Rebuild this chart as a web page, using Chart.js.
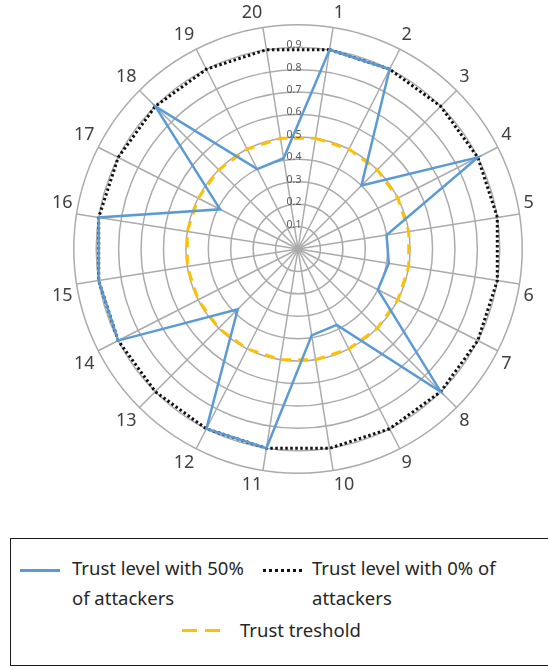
<!DOCTYPE html>
<html>
<head>
<meta charset="utf-8">
<script src="https://cdn.jsdelivr.net/npm/chart.js@4.4.1/dist/chart.umd.min.js"></script>
<style>
  html, body { margin: 0; padding: 0; background: #fff; overflow: hidden; }
  body { width: 548px; height: 669px; position: relative; font-family: "Noto Sans", sans-serif; }
  #wrap { position: absolute; left: 0; top: 0; width: 548px; height: 500px; }
  #legend { position: absolute; left: 10px; top: 538px; width: 600px; height: 128px;
            border: 1.5px solid #1a1a1a; border-right: none; box-sizing: border-box; }
  .item { position: absolute; font-size: 18.5px; line-height: 30px; color: #262626; white-space: nowrap; }
  .swatch { position: absolute; height: 3px; }
</style>
</head>
<body>
<div id="wrap"><canvas id="radar"></canvas></div>
<div id="legend"></div>
<script>
// categories 1..20 around the radar
const nodes = ["1", "2", "3", "4", "5", "6", "7", "8", "9", "10",
               "11", "12", "13", "14", "15", "16", "17", "18", "19", "20"];

// values
const trust50 = [0.9, 0.9, 0.4, 0.9, 0.4, 0.41, 0.4, 0.9, 0.38, 0.39,
                 0.9, 0.9, 0.38, 0.9, 0.9, 0.9, 0.39, 0.9, 0.4, 0.41];
const trust0 = [0.9, 0.9, 0.9, 0.9, 0.9, 0.9, 0.9, 0.9, 0.9, 0.9,
                0.9, 0.9, 0.9, 0.9, 0.9, 0.9, 0.9, 0.9, 0.9, 0.9];
const threshold = [0.5, 0.5, 0.5, 0.5, 0.5, 0.5, 0.5, 0.5, 0.5, 0.5,
                   0.5, 0.5, 0.5, 0.5, 0.5, 0.5, 0.5, 0.5, 0.5, 0.5];
const tickLabels = ["0.1", "0.2", "0.3", "0.4", "0.5", "0.6", "0.7", "0.8", "0.9"];

const seriesNames = ["Trust level with 50% of attackers",
                     "Trust level with 0% of attackers",
                     "Trust treshold"];

// tick labels stand upright above the centre (not along spoke 1)
const uprightTicks = {
  id: "uprightTicks",
  afterDatasetsDraw(chart) {
    const r = chart.scales.r;
    const ctx = chart.ctx;
    ctx.save();
    ctx.font = "10.5px 'Noto Sans', sans-serif";
    ctx.fillStyle = "#595959";
    ctx.textAlign = "center";
    ctx.textBaseline = "middle";
    tickLabels.forEach((t) => {
      const d = r.getDistanceFromCenterForValue(parseFloat(t));
      ctx.fillText(t, r.xCenter - 4, r.yCenter - d - 2);
    });
    ctx.restore();
  }
};

const ctx = document.getElementById("radar").getContext("2d");
const chart = new Chart(ctx, {
  type: "radar",
  data: {
    labels: nodes,
    datasets: [
      {
        label: seriesNames[0],
        data: trust50,
        borderColor: "#5b9bd5",
        borderWidth: 2.5,
        pointRadius: 0,
        fill: false,
        tension: 0,
        order: 0
      },
      {
        label: seriesNames[1],
        data: trust0,
        borderColor: "#111111",
        borderWidth: 3,
        borderDash: [2.5, 2.5],
        pointRadius: 0,
        fill: false,
        order: 1
      },
      {
        label: seriesNames[2],
        data: threshold,
        borderColor: "#ffc000",
        borderWidth: 3,
        borderDash: [10, 7],
        pointRadius: 0,
        fill: false,
        order: 2
      }
    ]
  },
  options: {
    responsive: true,
    maintainAspectRatio: false,
    animation: false,
    layout: { padding: { left: 38, right: 0, top: 2, bottom: 4 } },
    plugins: {
      legend: { display: false },
      tooltip: { enabled: false }
    },
    scales: {
      r: {
        min: 0,
        max: 1,
        startAngle: 9,
        ticks: { stepSize: 0.1, display: false },
        grid: { circular: true, color: "#ababab", lineWidth: 1.5 },
        angleLines: { color: "#ababab", lineWidth: 1.5 },
        pointLabels: {
          padding: 4,
          color: "#404040",
          font: { family: "'Noto Sans', sans-serif", size: 18 }
        }
      }
    }
  },
  plugins: [uprightTicks]
});

// legend in the boxed area under the chart
const legend = document.getElementById("legend");
const legendItems = [
  { x: 9, y: 30, w: 40, bg: "#5b9bd5", tx: 61, ty: 14, lines: ["Trust level with 50%", "of attackers"] },
  { x: 252, y: 30, w: 39,
    bg: "repeating-linear-gradient(to right, #111 0 3px, transparent 3px 6px)",
    tx: 301, ty: 14, lines: ["Trust level with 0% of", "attackers"] },
  { x: 171, y: 90, w: 38,
    bg: "repeating-linear-gradient(to right, #ffc000 0 15px, transparent 15px 23px)",
    tx: 229, ty: 76, lines: ["Trust treshold"] }
];
legendItems.forEach((it) => {
  const sw = document.createElement("div");
  sw.className = "swatch";
  sw.style.left = it.x + "px";
  sw.style.top = it.y + "px";
  sw.style.width = it.w + "px";
  sw.style.background = it.bg;
  legend.appendChild(sw);
  const tx = document.createElement("div");
  tx.className = "item";
  tx.style.left = it.tx + "px";
  tx.style.top = it.ty + "px";
  tx.innerHTML = it.lines.join("<br>");
  legend.appendChild(tx);
});
</script>
</body>
</html>
